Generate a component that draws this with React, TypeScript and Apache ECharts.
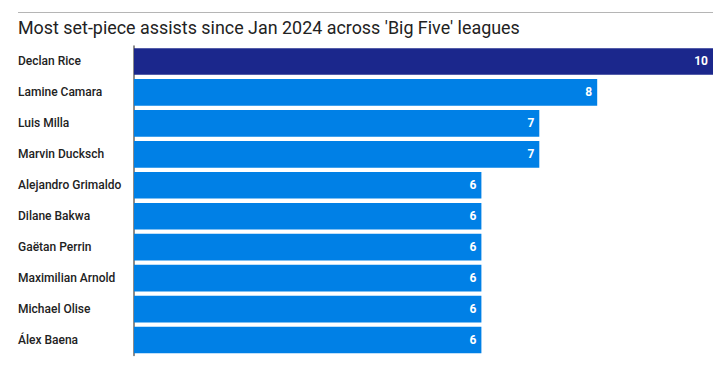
import React, { useEffect, useRef } from "react";
import * as echarts from "echarts";

const players = [
  "Declan Rice",
  "Lamine Camara",
  "Luis Milla",
  "Marvin Ducksch",
  "Alejandro Grimaldo",
  "Dilane Bakwa",
  "Gaëtan Perrin",
  "Maximilian Arnold",
  "Michael Olise",
  "Álex Baena",
];
const assists = [10, 8, 7, 7, 6, 6, 6, 6, 6, 6];
const title = "Most set-piece assists since Jan 2024 across 'Big Five' leagues";

const DARK = "#1b278c";
const BLUE = "#0080e6";
const LABEL_FONT = "Roboto, sans-serif";

export default function App() {
  const ref = useRef<HTMLDivElement>(null);
  useEffect(() => {
    const chart = echarts.init(ref.current!, null, { renderer: "svg" });
    chart.setOption({
      animation: false,
      graphic: [
        {
          type: "line",
          shape: { x1: 18, y1: 12.5, x2: 713, y2: 12.5 },
          style: { stroke: "#b5b5b5", lineWidth: 1 },
        },
        {
          type: "text",
          left: 18,
          top: 18,
          style: {
            text: title,
            fill: "#222",
            font: "17.9px Roboto, sans-serif",
          },
        },
      ],
      grid: { left: 134, right: 11, top: 46, bottom: 9.5, containLabel: false },
      xAxis: {
        type: "value",
        min: 0,
        max: 10,
        show: false,
      },
      yAxis: {
        type: "category",
        data: players,
        inverse: true,
        axisTick: { show: false },
        axisLine: { show: true, lineStyle: { color: "#666", width: 1.5 } },
        axisLabel: {
          align: "left",
          margin: 116,
          color: "#222",
          fontSize: 12,
          fontFamily: LABEL_FONT,
          fontWeight: 500,
        },
      },
      series: [
        {
          type: "bar",
          data: assists.map((v, i) => ({
            value: v,
            itemStyle: { color: i === 0 ? DARK : BLUE },
          })),
          barCategoryGap: "14%",
          label: {
            show: true,
            position: "insideRight",
            distance: 5,
            color: "#fff",
            fontSize: 12,
            fontFamily: LABEL_FONT,
            fontWeight: "bold",
          },
        },
      ],
    });
    return () => chart.dispose();
  }, []);
  return <div ref={ref} style={{ width: 724, height: 365, margin: -8 }} />;
}
